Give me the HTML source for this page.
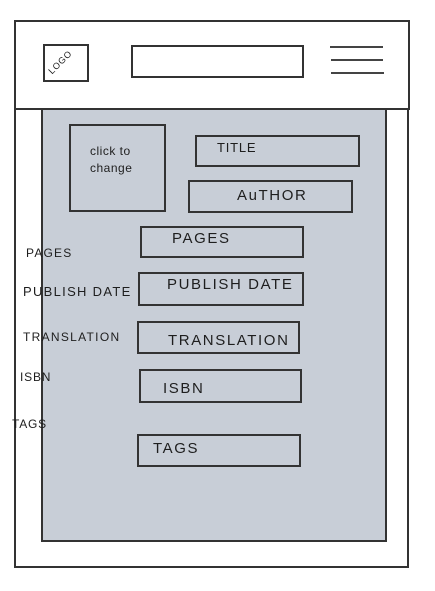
<!DOCTYPE html>
<html><head><style>
body{margin:0;width:435px;height:591px;background:#fff;position:relative;overflow:hidden;font-family:"Liberation Sans",sans-serif;color:#1e1e1e}
div{position:absolute;box-sizing:border-box}
.b{border:2px solid #333}
.t{white-space:nowrap;line-height:1;letter-spacing:0.8px}
.m{letter-spacing:1.6px}
.l{height:2px;background:#444}
</style></head><body>
<div class="b" style="left:14px;top:20px;width:395px;height:548px"></div>
<div class="b" style="left:41px;top:108px;width:346px;height:434px;background:#c8ced7"></div>
<div class="b" style="left:14px;top:20px;width:396px;height:90px;background:#fff"></div>
<div class="b" style="left:43px;top:44px;width:46px;height:38px"></div>
<div class="t" style="left:46px;top:58px;font-size:9px;transform:rotate(-45deg)">LOGO</div>
<div class="b" style="left:131px;top:45px;width:173px;height:33px"></div>
<div class="l" style="left:330px;top:46px;width:53px"></div>
<div class="l" style="left:331px;top:59px;width:52px"></div>
<div class="l" style="left:331px;top:72px;width:53px"></div>

<div class="b" style="left:69px;top:124px;width:97px;height:88px"></div>
<div class="t" style="left:90px;top:143px;font-size:12px;line-height:17px;letter-spacing:0.5px">click to<br>change</div>
<div class="b" style="left:195px;top:135px;width:165px;height:32px"></div>
<div class="t" style="left:217px;top:141px;font-size:13px">TITLE</div>
<div class="b" style="left:188px;top:180px;width:165px;height:33px"></div>
<div class="t m" style="left:237px;top:188px;font-size:15px">AuTHOR</div>
<div class="b" style="left:140px;top:226px;width:164px;height:32px"></div>
<div class="t m" style="left:172px;top:231px;font-size:15px">PAGES</div>
<div class="b" style="left:138px;top:272px;width:166px;height:34px"></div>
<div class="t m" style="left:167px;top:277px;font-size:15px">PUBLISH DATE</div>
<div class="b" style="left:137px;top:321px;width:163px;height:33px"></div>
<div class="t m" style="left:168px;top:333px;font-size:15px">TRANSLATION</div>
<div class="b" style="left:139px;top:369px;width:163px;height:34px"></div>
<div class="t m" style="left:163px;top:381px;font-size:15px">ISBN</div>
<div class="b" style="left:137px;top:434px;width:164px;height:33px"></div>
<div class="t m" style="left:153px;top:441px;font-size:15px">TAGS</div>

<div class="t" style="left:26px;top:247px;font-size:12px;letter-spacing:1.2px">PAGES</div>
<div class="t" style="left:23px;top:285px;font-size:13px;letter-spacing:1.3px">PUBLISH DATE</div>
<div class="t" style="left:23px;top:331px;font-size:12px;letter-spacing:1.3px">TRANSLATION</div>
<div class="t" style="left:20px;top:371px;font-size:12px">ISBN</div>
<div class="t" style="left:12px;top:418px;font-size:12px">TAGS</div>
</body></html>
